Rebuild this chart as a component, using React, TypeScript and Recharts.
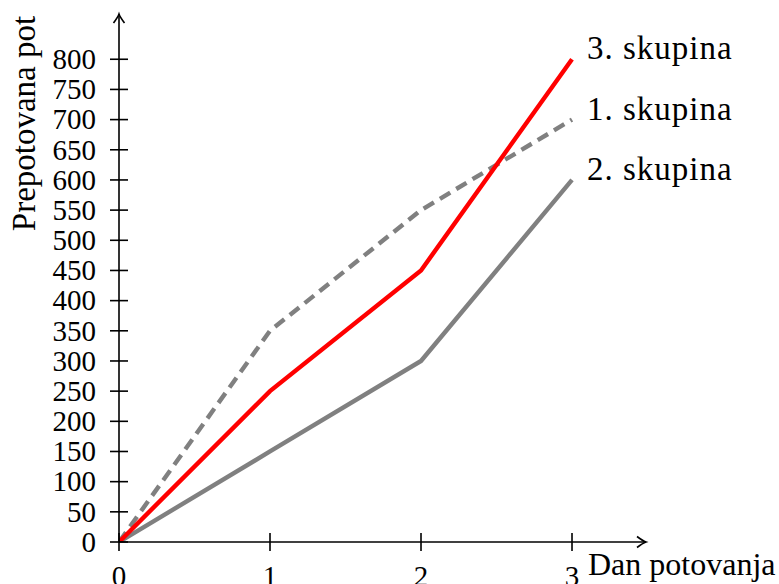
import React from 'react';
import { LineChart, Line, XAxis, YAxis, ReferenceDot } from 'recharts';

const days = [0, 1, 2, 3];
const group1 = [0, 350, 550, 700];
const group2 = [0, 150, 300, 600];
const group3 = [0, 250, 450, 800];
const xTicks = [0, 1, 2, 3];
const yTicks = [0, 50, 100, 150, 200, 250, 300, 350, 400, 450, 500, 550, 600, 650, 700, 750, 800];
const seriesNames = ['1. skupina', '2. skupina', '3. skupina'];
const xTitle = 'Dan potovanja';
const yTitle = 'Prepotovana pot';

const data = days.map((d, i) => ({ day: d, g1: group1[i], g2: group2[i], g3: group3[i] }));

const FONT = '"Liberation Serif", serif';
const X_MAX = 3.49;
const Y_MAX = 875;

const YTick = (props: any) => {
  const { x, y, payload } = props;
  return (
    <g>
      <line x1={x - 9} x2={x + 9} y1={y} y2={y} stroke="#000" strokeWidth={1.6} />
      <text x={x - 23} y={y + 9.8} textAnchor="end" fontFamily={FONT} fontSize={29} fill="#000">
        {payload.value}
      </text>
    </g>
  );
};

const XTick = (props: any) => {
  const { x, y, payload } = props;
  return (
    <g>
      <line x1={x} x2={x} y1={y - 9} y2={y + 9} stroke="#000" strokeWidth={1.6} />
      <text x={x} y={y + 44} textAnchor="middle" fontFamily={FONT} fontSize={29} fill="#000">
        {payload.value}
      </text>
    </g>
  );
};

const ArrowRight = (props: any) => {
  const { cx, cy } = props;
  return (
    <g>
      <path
        d={`M ${cx - 9} ${cy - 5.5} Q ${cx - 3} ${cy - 1} ${cx} ${cy} Q ${cx - 3} ${cy + 1} ${cx - 9} ${cy + 5.5}`}
        fill="none"
        stroke="#000"
        strokeWidth={1.6}
      />
      <text x={cx - 58} y={cy + 33} fontFamily={FONT} fontSize={32} fill="#000">
        {xTitle}
      </text>
    </g>
  );
};

const ArrowUp = (props: any) => {
  const { cx, cy } = props;
  return (
    <path
      d={`M ${cx - 5.5} ${cy + 9} Q ${cx - 1} ${cy + 3} ${cx} ${cy} Q ${cx + 1} ${cy + 3} ${cx + 5.5} ${cy + 9}`}
      fill="none"
      stroke="#000"
      strokeWidth={1.6}
    />
  );
};

const makeLabel = (name: string) => (props: any) => {
  const { cx, cy } = props;
  return (
    <text x={cx + 15} y={cy} fontFamily={FONT} fontSize={33} letterSpacing={1} fill="#000">
      {name}
    </text>
  );
};

export default function App() {
  return (
    <div style={{ position: 'absolute', left: 0, top: 0, width: 779, height: 584, background: '#fff' }}>
      <LineChart
        width={779}
        height={584}
        data={data}
        margin={{ top: 14, right: 133, bottom: 12, left: 59 }}
      >
        <XAxis
          dataKey="day"
          type="number"
          domain={[0, X_MAX]}
          allowDataOverflow
          ticks={xTicks}
          tick={<XTick />}
          tickLine={false}
          tickSize={0}
          tickMargin={0}
          height={30}
          axisLine={{ stroke: '#000', strokeWidth: 1.6 }}
          interval={0}
        />
        <YAxis
          type="number"
          domain={[0, Y_MAX]}
          allowDataOverflow
          ticks={yTicks}
          tick={<YTick />}
          tickLine={false}
          tickSize={0}
          tickMargin={0}
          width={60}
          axisLine={{ stroke: '#000', strokeWidth: 1.6 }}
          interval={0}
        />
        <Line
          dataKey="g2"
          stroke="#808080"
          strokeWidth={4.4}
          dot={false}
          type="linear"
          isAnimationActive={false}
        />
        <Line
          dataKey="g1"
          stroke="#808080"
          strokeWidth={4.4}
          strokeDasharray="12 7"
          dot={false}
          type="linear"
          isAnimationActive={false}
        />
        <Line
          dataKey="g3"
          stroke="#ff0000"
          strokeWidth={4.4}
          dot={false}
          type="linear"
          isAnimationActive={false}
        />
        <ReferenceDot x={X_MAX} y={0} ifOverflow="visible" shape={<ArrowRight />} />
        <ReferenceDot x={0} y={Y_MAX} ifOverflow="visible" shape={<ArrowUp />} />
        <ReferenceDot x={days[3]} y={group3[3]} ifOverflow="visible" shape={makeLabel(seriesNames[2])} />
        <ReferenceDot x={days[3]} y={group1[3]} ifOverflow="visible" shape={makeLabel(seriesNames[0])} />
        <ReferenceDot x={days[3]} y={group2[3]} ifOverflow="visible" shape={makeLabel(seriesNames[1])} />
      </LineChart>
      <svg
        width={60}
        height={584}
        style={{ position: 'absolute', left: 0, top: 0, pointerEvents: 'none' }}
      >
        <text
          x={35}
          y={123.5}
          transform="rotate(-90 35 123.5)"
          textAnchor="middle"
          fontFamily={FONT}
          fontSize={33}
          fill="#000"
        >
          {yTitle}
        </text>
      </svg>
    </div>
  );
}
